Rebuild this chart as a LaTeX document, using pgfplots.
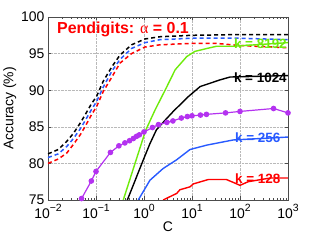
\documentclass[border=0pt]{standalone}
\usepackage{fontspec}
\setmainfont{Liberation Sans}
\newfontfamily\serifalpha{Liberation Serif}
\usepackage{pgfplots}
\pgfplotsset{compat=1.18}
\definecolor{cgreen}{RGB}{110,235,10}
\definecolor{cblue}{RGB}{40,90,255}
\definecolor{cred}{RGB}{255,0,0}
\definecolor{cpurple}{RGB}{180,50,240}
\newcommand{\ex}[1]{10\raisebox{0.5em}{\fontsize{10.5}{11}\selectfont #1}}
\begin{document}
\begin{tikzpicture}
\useasboundingbox (-48bp,-40bp) rectangle (271bp,200bp);
\begin{axis}[
  at={(0,0)}, anchor=south west,
  scale only axis, width=240bp, height=183bp,
  xmode=log, xmin=0.01, xmax=1000, ymin=75, ymax=100,
  xtick={0.01,0.1,1,10,100,1000},
  xticklabels={\ex{−2},\ex{−1},\ex{0},\ex{1},\ex{2},\ex{3}},
  minor xtick={0.02,0.03,0.04,0.05,0.06,0.07,0.08,0.09,0.2,0.3,0.4,0.5,0.6,0.7,0.8,0.9,2,3,4,5,6,7,8,9,20,30,40,50,60,70,80,90,200,300,400,500,600,700,800,900},
  ytick={75,80,85,90,95,100},
  grid=major, grid style={densely dotted, gray!55, line width=0.5bp},
  tick align=inside, major tick length=3.5bp, minor tick length=2bp,
  tick style={gray!60!black, line width=0.5bp},
  axis line style={gray!60!black, line width=0.6bp},
  font=\fontsize{14}{16}\selectfont,
  /pgf/number format/assume math mode=true,
  xlabel={C}, ylabel={Accuracy (\%)},
  xlabel style={yshift=4bp},
  ylabel style={yshift=-2bp},
  xticklabel style={yshift=-1bp},
  clip=true,
]
% dashed curves
\addplot[black, line width=1.5bp, dash pattern=on 4bp off 3bp] coordinates {
(0.01,81.3) (0.0164,81.9) (0.0245,83.0) (0.0339,84.1) (0.0468,85.5) (0.0589,86.6) (0.0813,88.2) (0.102,89.1) (0.141,91.2) (0.214,93.2) (0.316,94.8) (0.55,96.2) (1.05,97.0) (2.14,97.3) (10,97.5) (100,97.6) (1000,97.6)};
\addplot[cblue, line width=1.5bp, dash pattern=on 4bp off 3bp] coordinates {
(0.01,80.8) (0.0164,81.3) (0.0245,82.3) (0.0339,83.4) (0.0468,84.7) (0.0589,85.8) (0.0813,87.4) (0.102,88.4) (0.141,90.4) (0.214,92.6) (0.316,94.2) (0.55,95.7) (1.05,96.5) (2.14,96.9) (10,97.1) (100,97.1) (1000,96.9)};
\addplot[cred, line width=1.5bp, dash pattern=on 4bp off 3bp] coordinates {
(0.01,80.0) (0.0164,80.6) (0.0245,81.4) (0.0339,82.6) (0.0468,83.9) (0.0589,85.0) (0.0813,86.7) (0.102,87.7) (0.141,89.8) (0.214,91.8) (0.316,93.7) (0.55,95.0) (1.05,95.9) (2.14,96.2) (10,96.4) (31.6,96.4) (100,96.1) (1000,95.8)};
% solid curves
\addplot[cgreen, line width=1.4bp] coordinates {
(0.37,75) (1.08,84.5) (1.7,87.3) (2.75,90.0) (4.47,92.8) (7.8,94.6) (11.5,95.3) (20.4,95.7) (32.4,96.0) (72,96.0) (1000,96.5)};
\addplot[black, line width=1.4bp] coordinates {
(0.45,75) (0.97,80.5) (1.33,82.7) (1.82,84.6) (2.75,85.9) (4.07,87.1) (8.3,89.1) (14.8,90.5) (38,91.4) (62,91.8) (1000,92.0)};
\addplot[cblue, line width=1.4bp] coordinates {
(0.76,75) (1.33,77.7) (2.5,79.3) (4.8,80.5) (9.1,81.9) (20.4,82.5) (72,83.2) (1000,83.6)};
\addplot[cred, line width=1.4bp] coordinates {
(2.5,75) (4.8,75.9) (5.6,76.4) (9.1,76.8) (10.7,77.2) (21.9,77.8) (52,77.8) (79,77.3) (100,77.0) (148,77.5) (427,78.0) (1000,78.0)};
% purple with markers
\addplot[cpurple, line width=1.2bp, mark=*, mark size=2.2bp, mark options={fill=cpurple, draw=cpurple}] coordinates {
(0.05,75.2) (0.08,77.6) (0.1,78.9) (0.2,81.5) (0.3,82.4) (0.4,82.8) (0.5,83.1) (0.6,83.4) (0.7,83.7) (0.8,83.9) (1,84.3) (1.5,84.9) (2,85.3) (3,85.6) (4,85.8) (6,86.2) (8,86.4) (10,86.5) (15,86.6) (20,86.7) (50,86.9) (100,87.1) (500,87.5) (1000,86.9)};
% labels
\node[anchor=west, text=cred, font=\bfseries\fontsize{16}{18}\selectfont, inner sep=0pt] at (rel axis cs:0.0375,0.934) {Pendigits: {\serifalpha\mdseries α} = 0.1};
\node[anchor=east, text=cgreen, font=\bfseries\fontsize{13.5}{15}\selectfont, inner sep=0pt] at (axis cs:950,96.4) {k = 8192};
\node[anchor=east, text=black, font=\bfseries\fontsize{13.5}{15}\selectfont, inner sep=0pt] at (axis cs:950,91.7) {k = 1024};
\node[anchor=east, text=cblue, font=\bfseries\fontsize{13.5}{15}\selectfont, inner sep=0pt] at (axis cs:700,83.5) {k = 256};
\node[anchor=east, text=cred, font=\bfseries\fontsize{13.5}{15}\selectfont, inner sep=0pt] at (axis cs:700,77.9) {k = 128};
\end{axis}
\end{tikzpicture}
\end{document}
